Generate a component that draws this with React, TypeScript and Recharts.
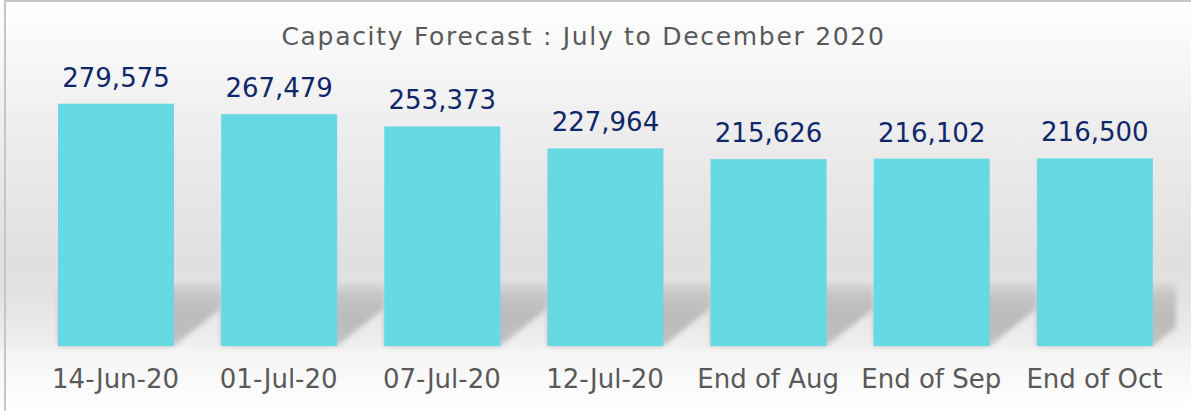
import { BarChart, Bar, XAxis, YAxis, LabelList } from "recharts";

const categories = [
  "14-Jun-20",
  "01-Jul-20",
  "07-Jul-20",
  "12-Jul-20",
  "End of Aug",
  "End of Sep",
  "End of Oct",
];
const capacity = [279575, 267479, 253373, 227964, 215626, 216102, 216500];
const yDomain = [0, 300000];

const data = categories.map((label, i) => ({ label, capacity: capacity[i] }));

const CHART_W = 1191;
const CHART_H = 411;
const MARGIN = { top: 86, right: 15, bottom: 0, left: 34 };
const BAR_SIZE = 116;
const BAND = (CHART_W - MARGIN.left - MARGIN.right) / categories.length;
const GAP = BAND - BAR_SIZE;
const PLOT_RIGHT = CHART_W - MARGIN.right;
const FLOOR_H = 63;
const FONT = "'DejaVu Sans', sans-serif";

// bar with a soft floor shadow falling to the right
const ShadowBar = (props: any) => {
  const { x, y, width, height, fill } = props;
  const bottom = y + height;
  const right = x + width;
  const end = Math.min(right + GAP, PLOT_RIGHT);
  const top = bottom - FLOOR_H;
  const pts = [
    [x, top],
    [end, top],
    [end, bottom - (end - right) * 0.8],
    [right, bottom],
    [x, bottom],
  ]
    .map((p) => p.join(","))
    .join(" ");
  return (
    <g>
      <polygon points={pts} fill="url(#floorShade)" filter="url(#softShadow)" />
      <rect x={x} y={y} width={width} height={height} fill={fill} />
    </g>
  );
};

export default function App() {
  return (
    <div
      style={{
        position: "absolute",
        left: 0,
        top: 0,
        width: CHART_W,
        height: CHART_H,
        overflow: "hidden",
        background:
          "linear-gradient(to bottom, #ffffff 0px, #ececec 140px, #e0e0e0 260px, #e3e3e3 300px, #efefef 346px, #f4f4f4 350px, #ffffff 411px)",
      }}
    >
      <div
        style={{
          position: "absolute",
          left: 4,
          top: 0,
          width: CHART_W,
          height: CHART_H,
          borderTop: "2px solid #c6c6c6",
          borderLeft: "2px solid #c6c6c6",
        }}
      />
      <div
        style={{
          position: "absolute",
          left: 0,
          top: 24,
          width: 1167,
          textAlign: "center",
          fontFamily: FONT,
          fontSize: 25,
          lineHeight: "25px",
          letterSpacing: 1.7,
          color: "#595959",
        }}
      >
        Capacity Forecast : July to December 2020
      </div>
      <div style={{ position: "absolute", left: 0, top: 0 }}>
        <BarChart width={CHART_W} height={CHART_H} data={data} margin={MARGIN}>
          <defs>
            <linearGradient id="floorShade" x1="0" y1="0" x2="0" y2="1">
              <stop offset="0%" stopColor="#d8d8d8" />
              <stop offset="20%" stopColor="#c4c4c4" />
              <stop offset="55%" stopColor="#bbbbbb" />
              <stop offset="100%" stopColor="#c2c2c2" />
            </linearGradient>
            <filter id="softShadow" x="-10%" y="-20%" width="120%" height="140%">
              <feGaussianBlur stdDeviation="2.5" />
            </filter>
          </defs>
          <XAxis
            dataKey="label"
            height={65}
            interval={0}
            axisLine={false}
            tickLine={false}
            tickSize={0}
            tickMargin={24}
            tick={{ fill: "#595959", fontSize: 26, fontFamily: FONT }}
          />
          <YAxis hide domain={yDomain} />
          <Bar
            dataKey="capacity"
            fill="#67d9e2"
            barSize={BAR_SIZE}
            shape={ShadowBar}
            isAnimationActive={false}
          >
            <LabelList
              dataKey="capacity"
              position="top"
              offset={17}
              fill="#10276a"
              fontSize={26}
              fontFamily={FONT}
              formatter={(v: any) => Number(v).toLocaleString("en-US")}
            />
          </Bar>
        </BarChart>
      </div>
    </div>
  );
}
